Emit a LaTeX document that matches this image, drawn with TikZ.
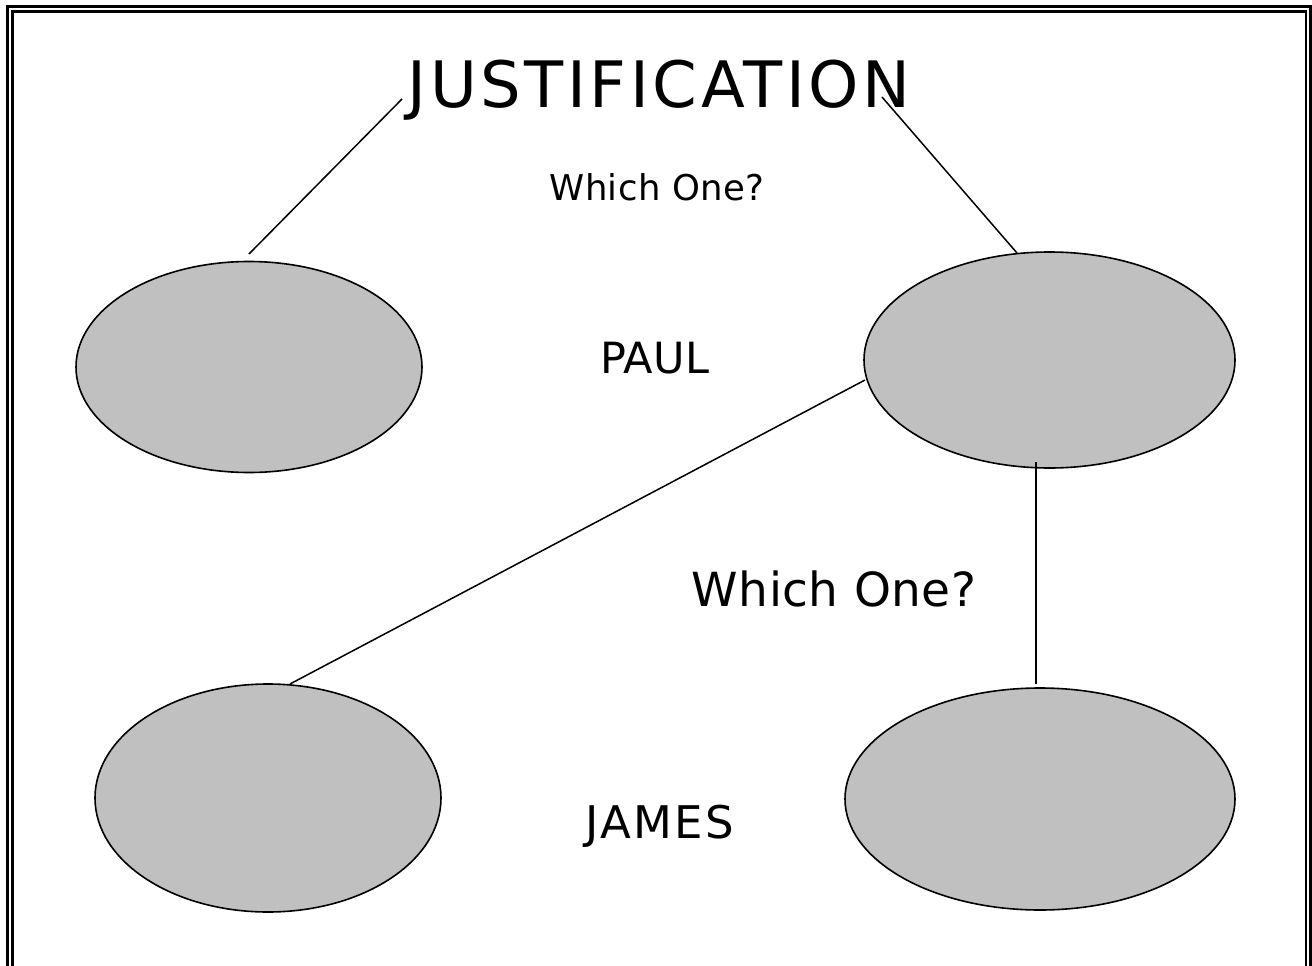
\documentclass[tikz,border=0pt]{standalone}
\usepackage{fontspec}
\setmainfont{DejaVu Sans}
\usetikzlibrary{shapes.geometric}
\definecolor{ellgray}{HTML}{C0C0C0}
\tikzset{
  blob/.style={ellipse, draw=black, fill=ellgray, line width=1.6pt, inner sep=0pt},
  conn/.style={line width=1.5pt, draw=black},
  frame/.style={line width=2.2pt, draw=black},
  lbl/.style={inner sep=0pt, anchor=base, text=black}
}
\begin{document}
\begin{tikzpicture}[x=1pt,y=-1pt]
\useasboundingbox (0,0) rectangle (1312,966);
\clip (0,0) rectangle (1312,966);
\fill[white] (0,0) rectangle (1312,966);
% double frame
\draw[frame] (7.5,6.5) rectangle (1310.5,990);
\draw[frame] (12.5,11.5) rectangle (1306,990);
% ellipses
\node[blob, minimum width=346pt, minimum height=211pt] (e1) at (249,367) {};
\node[blob, minimum width=371pt, minimum height=216pt] (e2) at (1049.5,360) {};
\node[blob, minimum width=346pt, minimum height=228pt] (e3) at (268,798) {};
\node[blob, minimum width=390pt, minimum height=222pt] (e4) at (1040,799) {};
% texts
\node[lbl, font=\fontsize{64}{64}\selectfont\addfontfeature{LetterSpace=5.6}] (title) at (659,107) {JUSTIFICATION};
\node[lbl, font=\fontsize{35.5}{36}\selectfont\addfontfeature{LetterSpace=1}] (q1) at (657,200) {Which One?};
\node[lbl, font=\fontsize{43}{43}\selectfont\addfontfeature{LetterSpace=1}] (paul) at (655,373) {PAUL};
\node[lbl, font=\fontsize{47}{47}\selectfont\addfontfeature{LetterSpace=1}] (q2) at (834,606) {Which One?};
\node[lbl, font=\fontsize{45}{45}\selectfont\addfontfeature{LetterSpace=5}] (james) at (660,838) {JAMES};
% connector end points
\coordinate (a1) at (402,99);
\coordinate (a2) at (249,254);
\coordinate (b1) at (882,97);
\coordinate (b2) at (1017,253);
\coordinate (c1) at (865,380);
\coordinate (c2) at (290,684);
\coordinate (d1) at (1036,462);
\coordinate (d2) at (1036,684);
\draw[conn] (a1) -- (a2);
\draw[conn] (b1) -- (b2);
\draw[conn] (c1) -- (c2);
\draw[conn] (d1) -- (d2);
\end{tikzpicture}
\end{document}
